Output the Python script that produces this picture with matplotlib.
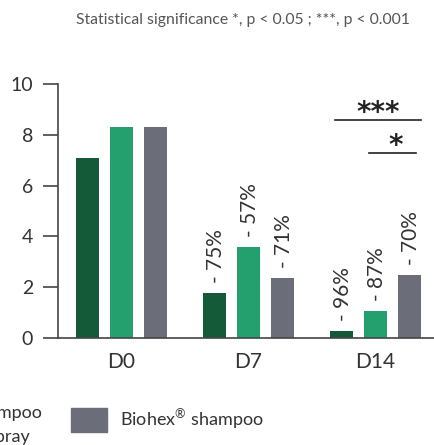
"""Mean score per visit for three Biohex treatments, with reduction labels."""
import numpy as np
import matplotlib.pyplot as plt

plt.rcParams["font.family"] = ["Lato", "DejaVu Sans"]
plt.rcParams["mathtext.fontset"] = "custom"
plt.rcParams["mathtext.rm"] = "Lato"

visits = ["D0", "D7", "D14"]
series_names = ["Biohex® shampoo + spray", "Biohex® Plus shampoo", "Biohex® shampoo"]
colors = ["#145a38", "#24a06f", "#6b6e79"]
values = [
    [7.1, 1.78, 0.28],
    [8.3, 3.6, 1.07],
    [8.3, 2.37, 2.5],
]
reductions = [
    [None, "- 75%", "- 96%"],
    [None, "- 57%", "- 87%"],
    [None, "- 71%", "- 70%"],
]
yticks = [0, 2, 4, 6, 8, 10]
AXIS = "#444444"
TEXT = "#333333"

fig = plt.figure(figsize=(4.35, 4.45), dpi=100)
ax = fig.add_axes([58 / 435, 107 / 445, 377 / 435, 254 / 445])

x = np.arange(len(visits))
offset, width = 0.268, 0.182
for i, (vals, labels, color) in enumerate(zip(values, reductions, colors)):
    pos = x + (i - 1) * offset
    ax.bar(pos, vals, width, color=color)
    for px, v, lab in zip(pos, vals, labels):
        if lab:
            ax.annotate(lab, (px, v), xytext=(1, 7), textcoords="offset points",
                        rotation=90, rotation_mode="anchor", ha="left", va="center",
                        fontsize=15, color=TEXT)

# significance brackets on D14
d14 = x[2]
star_kw = dict(ha="center", va="center", fontsize=20, fontweight="bold",
               color="#222222", family="DejaVu Sans")
ax.plot([d14 - 0.32, d14 + 0.36], [8.6, 8.6], color="#222222", lw=1.2)
ax.text(d14 + 0.02, 8.85, "***", **star_kw)
ax.plot([d14 - 0.05, d14 + 0.32], [7.3, 7.3], color="#222222", lw=1.2)
ax.text(d14 + 0.16, 7.55, "*", **star_kw)

ax.set_xlim(-0.5, 2.47)
ax.set_ylim(0, 10)
ax.set_yticks(yticks)
ax.set_xticks(x, visits)
ax.tick_params(axis="y", length=11, width=1.2, color=AXIS, pad=7, labelsize=14, labelcolor=TEXT)
ax.tick_params(axis="x", length=0, pad=10, labelsize=15, labelcolor=TEXT)
for side in ["top", "right"]:
    ax.spines[side].set_visible(False)
for side in ["left", "bottom"]:
    ax.spines[side].set_color(AXIS)
    ax.spines[side].set_linewidth(1.2)

fig.text(243 / 435, 1 - 20 / 445, "Statistical significance *, p < 0.05 ; ***, p < 0.001",
         ha="center", va="center", fontsize=11.3, color="#555555")

# legend row (first entries run off the left edge)
fig.text(42 / 435, 1 - 413 / 445, "shampoo", ha="right", va="center", fontsize=13, color=TEXT)
fig.text(30 / 435, 1 - 437 / 445, "+ spray", ha="right", va="center", fontsize=13, color=TEXT)
fig.patches.append(plt.Rectangle((71 / 435, 1 - 432 / 445), 36 / 435, 24 / 445,
                                 transform=fig.transFigure, color=colors[2], figure=fig))
fig.text(120 / 435, 1 - 420 / 445, r"Biohex$^{\circledR}$ shampoo", ha="left", va="center",
         fontsize=13, color=TEXT)

fig.savefig("out.png", dpi=100)
